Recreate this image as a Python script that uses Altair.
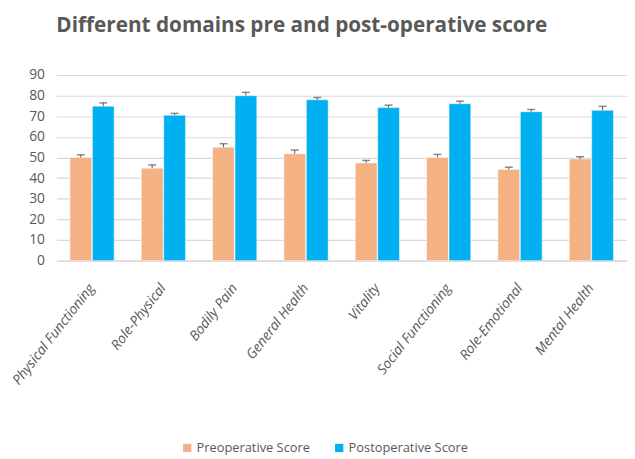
import altair as alt
import pandas as pd

domains = ["Physical Functioning", "Role-Physical", "Bodily Pain", "General Health",
           "Vitality", "Social Functioning", "Role-Emotional", "Mental Health"]
series = ["Preoperative Score", "Postoperative Score"]
pre_values = [50.0, 44.8, 55.0, 51.8, 47.4, 50.0, 44.2, 49.3]
pre_err_top = [51.3, 46.4, 56.7, 53.6, 48.6, 51.5, 45.3, 50.4]
post_values = [74.9, 70.5, 80.0, 78.0, 74.2, 76.1, 72.2, 72.9]
post_err_top = [76.5, 71.4, 81.6, 79.1, 75.4, 77.3, 73.3, 74.8]
y_ticks = [0, 10, 20, 30, 40, 50, 60, 70, 80, 90]

rows = []
for i, d in enumerate(domains):
    rows.append({"domain": d, "series": series[0], "value": pre_values[i], "err": pre_err_top[i]})
    rows.append({"domain": d, "series": series[1], "value": post_values[i], "err": post_err_top[i]})
df = pd.DataFrame(rows)

GRAY = "#595959"
FONT = "Open Sans"

xscale = alt.Scale(paddingInner=0.38, paddingOuter=0.19)
yscale = alt.Scale(domain=[0, 90], nice=False)
xaxis = alt.Axis(labelAngle=-52, labelFont=FONT, labelFontSize=14,
                 labelFontStyle="italic", labelColor=GRAY, ticks=False,
                 domainColor="#D9D9D9", domainWidth=1.5, labelPadding=25,
                 labelLimit=300)
yaxis = alt.Axis(values=y_ticks, labelFont=FONT, labelFontSize=14,
                 labelColor=GRAY, ticks=False, domain=False, labelOverlap=False,
                 gridColor="#D9D9D9", gridWidth=1.2, labelPadding=12)
xoff = alt.XOffset("series:N", sort=series, scale=alt.Scale(paddingInner=0.03))


def xenc():
    return alt.X("domain:N", sort=domains, title=None, scale=xscale, axis=xaxis)


bars = alt.Chart(df).mark_bar(stroke="white", strokeWidth=0.5).encode(
    x=xenc(),
    xOffset=xoff,
    y=alt.Y("value:Q", title=None, scale=yscale, axis=yaxis),
    color=alt.Color("series:N", sort=series,
                    scale=alt.Scale(domain=series, range=["#F4B183", "#00B0F0"]),
                    legend=alt.Legend(title=None, orient="none", direction="horizontal",
                                      legendX=126, legendY=371, symbolType="square",
                                      symbolSize=70, symbolStrokeWidth=0,
                                      labelFont=FONT, labelFontSize=13, labelColor=GRAY,
                                      columnPadding=23, labelOffset=3)),
)

rules = alt.Chart(df).mark_rule(color=GRAY, strokeWidth=1).encode(
    x=xenc(),
    xOffset=xoff,
    y=alt.Y("value:Q", title=None, scale=yscale, axis=yaxis),
    y2="err:Q",
)

caps = alt.Chart(df).mark_tick(color=GRAY, thickness=1.5, size=8, orient="horizontal").encode(
    x=xenc(),
    xOffset=xoff,
    y=alt.Y("err:Q", title=None, scale=yscale, axis=yaxis),
)

chart = alt.layer(bars, rules, caps).properties(
    width=578, height=188,
    title=alt.TitleParams("Different domains pre and post-operative score",
                          font=FONT, fontSize=21, fontWeight="bold", color=GRAY,
                          anchor="start", frame="group", offset=33),
    autosize=alt.AutoSizeParams(type="none"),
    padding={"left": 49, "top": 65, "right": 0, "bottom": 196},
).configure_view(stroke=None)

chart.save("out.html", embed_options={"renderer": "svg", "actions": False})
